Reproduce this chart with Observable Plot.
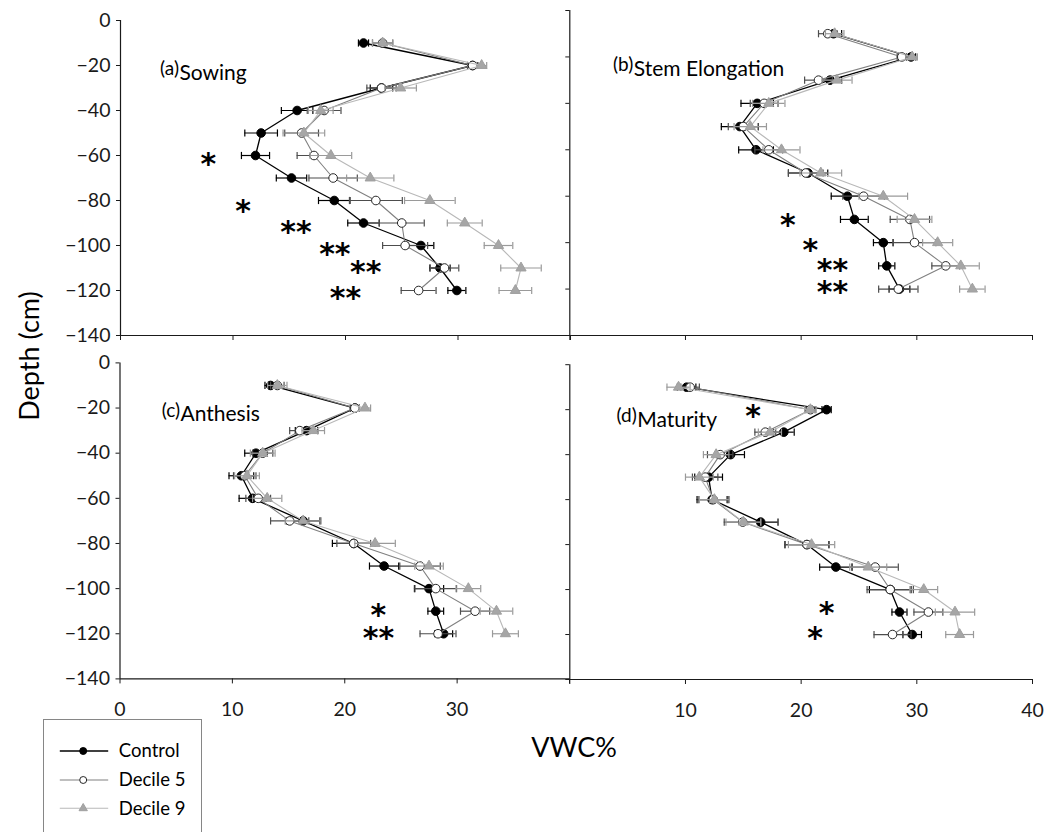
<!DOCTYPE html>
<html><head><meta charset="utf-8">
<script src="https://cdn.jsdelivr.net/npm/d3@7"></script>
<script src="https://cdn.jsdelivr.net/npm/@observablehq/plot@0.6"></script>
<style>
html,body{margin:0;padding:0;background:#fff;}
#root{position:relative;width:1046px;height:832px;overflow:hidden;font-family:Lato,sans-serif;color:#000;}
.panel{position:absolute;}
.title{position:absolute;white-space:nowrap;font-family:Lato,sans-serif;font-size:27px;line-height:1;}
#legend{position:absolute;left:42.5px;top:719px;width:157px;height:140px;border:1px solid #868686;background:#fff;}
</style></head>
<body><div id="root"></div>
<script>
// ---------- data ----------
const depths = [-10,-20,-30,-40,-50,-60,-70,-80,-90,-100,-110,-120];
const yTicks = [0,-20,-40,-60,-80,-100,-120,-140];
const xTicks = [0,10,20,30,40];
const xLabelsLeft = [0,10,20,30];
const xLabelsRight = [10,20,30,40];
const seriesNames = ["Control","Decile 5","Decile 9"];
const panelTags = ["(a)","(b)","(c)","(d)"];
const panelNames = ["Sowing","Stem Elongation","Anthesis","Maturity"];

// (a) Sowing
const sowingControl    = [21.6,31.3,23.2,15.7,12.5,12.0,15.2,19.0,21.6,26.7,28.4,29.9];
const sowingControlErr = [0.45,0.45,1.0,1.4,1.45,1.25,1.35,1.4,1.4,1.15,0.9,0.8];
const sowingD5         = [23.3,31.3,23.2,18.1,16.1,17.2,18.9,22.7,25.0,25.3,28.8,26.5];
const sowingD5Err      = [0.9,0.45,1.3,1.5,1.5,1.5,2.15,2.35,2.0,2.0,1.27,1.55];
const sowingD9         = [23.3,32.1,24.9,17.8,16.3,18.7,22.2,27.5,30.6,33.6,35.6,35.1];
const sowingD9Err      = [0.9,0.45,1.4,1.1,1.85,1.85,2.1,2.25,1.55,1.27,1.8,1.45];
const sowingStarText   = ["*","*","**","**","**","**"];
const sowingStarX      = [7.8,10.9,15.6,19.05,21.8,20.0];
const sowingStarDepth  = [-62,-83,-92,-102,-110,-121.5];

// (b) Stem Elongation
const stemControl    = [22.8,29.5,22.5,16.2,14.7,16.1,20.6,24.0,24.6,27.1,27.4,28.5];
const stemControlErr = [0.7,0.4,1.0,1.4,1.6,1.5,1.7,1.4,1.2,0.85,0.7,0.9];
const stemD5         = [22.3,28.7,21.5,16.8,15.0,17.2,20.4,25.4,29.4,29.8,32.5,28.4];
const stemD5Err      = [0.8,0.4,1.2,1.2,1.3,1.2,1.5,1.8,1.7,1.85,1.2,1.7];
const stemD9         = [22.9,29.6,23.1,17.2,15.6,18.3,21.7,27.1,29.8,31.8,33.8,34.8];
const stemD9Err      = [0.8,0.45,1.3,1.4,1.4,1.6,1.8,2.1,1.5,1.3,1.6,1.1];
const stemStarText   = ["*","*","**","**"];
const stemStarX      = [18.84,20.8,22.7,22.7];
const stemStarDepth  = [-90.5,-101.3,-110,-119.3];

// (c) Anthesis
const anthesisControl    = [13.4,20.9,16.6,12.1,10.8,11.8,16.3,20.8,23.5,27.5,28.1,28.8];
const anthesisControlErr = [0.5,0.4,1.0,1.0,1.1,1.2,1.5,1.9,1.3,1.3,0.7,0.8];
const anthesisD5         = [14.0,20.9,16.0,12.7,11.1,12.3,15.1,20.8,26.7,28.1,31.6,28.3];
const anthesisD5Err      = [0.6,0.4,0.9,0.9,1.0,1.1,1.7,1.5,1.8,1.85,1.3,1.6];
const anthesisD9         = [14.0,21.8,17.2,12.7,11.3,13.1,16.3,22.7,27.5,31.0,33.5,34.3];
const anthesisD9Err      = [0.86,0.5,1.0,1.1,1.1,1.3,1.6,1.8,1.27,1.1,1.45,1.15];
const anthesisStarText   = ["*","**"];
const anthesisStarX      = [23.0,23.0];
const anthesisStarDepth  = [-109.7,-120];

// (d) Maturity
const maturityControl    = [10.1,22.2,18.5,13.9,12.0,12.3,16.5,20.5,23.0,27.7,28.5,29.6];
const maturityControlErr = [0.8,0.4,0.9,1.2,1.2,1.3,1.5,1.9,1.4,1.8,0.65,0.8];
const maturityD5         = [10.4,20.8,16.9,13.0,11.7,12.4,14.95,20.5,26.4,27.7,31.0,27.9];
const maturityD5Err      = [0.8,0.4,0.9,1.1,1.1,1.3,1.6,1.9,2.0,2.0,1.25,1.6];
const maturityD9         = [9.4,20.8,17.3,12.65,11.2,12.5,15.0,20.9,25.8,30.6,33.3,33.7];
const maturityD9Err      = [1.0,0.5,1.0,1.1,1.2,1.3,1.5,2.0,1.6,1.2,1.7,1.2];
const maturityStarText   = ["*","*","*"];
const maturityStarX      = [15.85,22.2,21.2];
const maturityStarDepth  = [-21,-108.5,-119.6];

// ---------- styles / layout ----------
const seriesStyle = {
  "Control":  {line:"#000000", lw:1.3, err:"#000000", symbol:"circle",   fill:"#000000", stroke:"#000000", r:4.3},
  "Decile 5": {line:"#808080", lw:1.1, err:"#4d4d4d", symbol:"circle",   fill:"#ffffff", stroke:"#262626", r:4.3},
  "Decile 9": {line:"#b8b8b8", lw:1.1, err:"#9a9a9a", symbol:"triangle", fill:"#a6a6a6", stroke:"#a0a0a0", r:3.8}
};
const axisColor = "#1a1a1a";
const capSymbol = {draw(ctx){ ctx.moveTo(0,-3.6); ctx.lineTo(0,3.6); }};

const panels = [
  {series:[sowingControl,sowingD5,sowingD9], errs:[sowingControlErr,sowingD5Err,sowingD9Err],
   stars:[sowingStarText,sowingStarX,sowingStarDepth],
   left:0, top:0, width:600, height:345, mL:120, mR:30, mT:20, mB:10, yLab:true, xLab:null,
   tagDx:58.5, tagDy:40.9, nameDx:59, nameDy:45},
  {series:[stemControl,stemD5,stemD9], errs:[stemControlErr,stemD5Err,stemD9Err],
   stars:[stemStarText,stemStarX,stemStarDepth],
   left:540, top:0, width:506, height:345, mL:29.3, mR:14, mT:10, mB:10, yLab:false, xLab:null,
   tagDx:63.5, tagDy:46.9, nameDx:64, nameDy:51},
  {series:[anthesisControl,anthesisD5,anthesisD9], errs:[anthesisControlErr,anthesisD5Err,anthesisD9Err],
   stars:[anthesisStarText,anthesisStarX,anthesisStarDepth],
   left:0, top:340, width:600, height:400, mL:119.5, mR:31, mT:22.4, mB:61.6, yLab:true, xLab:xLabelsLeft,
   tagDx:60, tagDy:40.5, nameDx:60.5, nameDy:43.2},
  {series:[maturityControl,maturityD5,maturityD9], errs:[maturityControlErr,maturityD5Err,maturityD9Err],
   stars:[maturityStarText,maturityStarX,maturityStarDepth],
   left:540, top:340, width:506, height:400, mL:29.3, mR:14, mT:24.2, mB:61, yLab:false, xLab:xLabelsRight,
   tagDx:67, tagDy:44.2, nameDx:67.4, nameDy:47.8}
];

function seriesMarks(rows, st) {
  return [
    Plot.ruleY(rows, {y:"depth", x1:d=>d.v-d.e, x2:d=>d.v+d.e, stroke:st.err, strokeWidth:1.2}),
    Plot.dot(rows, {x:d=>d.v-d.e, y:"depth", symbol:capSymbol, fill:"none", stroke:st.err, strokeWidth:1.2}),
    Plot.dot(rows, {x:d=>d.v+d.e, y:"depth", symbol:capSymbol, fill:"none", stroke:st.err, strokeWidth:1.2}),
    Plot.line(rows, {x:"v", y:"depth", stroke:st.line, strokeWidth:st.lw}),
    Plot.dot(rows, {x:"v", y:"depth", symbol:st.symbol, r:st.r, fill:st.fill, stroke:st.stroke, strokeWidth:1})
  ];
}

const root = document.getElementById("root");

panels.forEach((p, k) => {
  const marks = [];
  marks.push(Plot.axisY({ticks:yTicks, anchor:"left", tickSize:4, tickPadding:6, label:null,
    tickFormat: p.yLab ? (d => d === 0 ? "0" : "\u2212" + Math.abs(d)) : (() => ""), fontSize:19.5}));
  marks.push(Plot.axisX({ticks:xTicks, anchor:"bottom", tickSize:5, tickPadding:18.3, label:null,
    tickFormat: p.xLab ? (d => p.xLab.includes(d) ? String(d) : "") : (() => ""), fontSize:19.5}));
  marks.push(Plot.ruleX([0], {stroke:axisColor, strokeWidth:1.2}));
  marks.push(Plot.ruleY([-140], {stroke:axisColor, strokeWidth:1.2}));
  seriesNames.forEach((name, s) => {
    const rows = depths.map((d, i) => ({depth:d, v:p.series[s][i], e:p.errs[s][i], series:name}));
    marks.push(...seriesMarks(rows, seriesStyle[name]));
  });
  const [stT, stX, stD] = p.stars;
  const starRows = stT.map((t, i) => ({t, x:stX[i], y:stD[i]}));
  marks.push(Plot.text(starRows, {x:"x", y:"y", text:"t", fontSize:30, fontWeight:"bold", fill:"#000",
    dy:7.5, fontFamily:"DejaVu Sans", lineHeight:0.7}));
  marks.push(Plot.text([panelTags[k]], {frameAnchor:"top-left", dx:p.tagDx, dy:p.tagDy, textAnchor:"end", fontSize:19, fill:"#000"}));
  marks.push(Plot.text([panelNames[k]], {frameAnchor:"top-left", dx:p.nameDx, dy:p.nameDy, textAnchor:"start", fontSize:21, fill:"#000"}));

  const chart = Plot.plot({
    width:p.width, height:p.height,
    marginLeft:p.mL, marginRight:p.mR, marginTop:p.mT, marginBottom:p.mB,
    style:{background:"transparent", overflow:"visible", fontFamily:"Lato, sans-serif", fontSize:"19.5px", color:axisColor},
    x:{domain:[0,40]},
    y:{domain:[-140,0]},
    marks
  });
  chart.classList.add("panel");
  chart.style.position = "absolute";
  chart.style.left = p.left + "px";
  chart.style.top = p.top + "px";
  chart.style.maxWidth = "none";
  root.appendChild(chart);
});

// axis titles
const yt = document.createElement("div");
yt.className = "title";
yt.textContent = "Depth (cm)";
yt.style.left = "28px"; yt.style.top = "356px";
yt.style.transform = "translate(-50%,-50%) rotate(-90deg)";
root.appendChild(yt);

const xt = document.createElement("div");
xt.className = "title";
xt.textContent = "VWC%";
xt.style.left = "574px"; xt.style.top = "746px";
xt.style.transform = "translate(-50%,-50%)";
root.appendChild(xt);

// legend
const lg = document.createElement("div");
lg.id = "legend";
const ns = "http://www.w3.org/2000/svg";
const lsvg = document.createElementNS(ns, "svg");
lsvg.setAttribute("width", 157); lsvg.setAttribute("height", 120);
lsvg.style.position = "absolute"; lsvg.style.left = "0px"; lsvg.style.top = "0px";
const rowY = [31, 60, 88.3];
seriesNames.forEach((name, i) => {
  const st = seriesStyle[name];
  const y = rowY[i];
  const ln = document.createElementNS(ns, "line");
  ln.setAttribute("x1", 15.8); ln.setAttribute("x2", 64.2); ln.setAttribute("y1", y); ln.setAttribute("y2", y);
  ln.setAttribute("stroke", st.line); ln.setAttribute("stroke-width", st.lw);
  lsvg.appendChild(ln);
  const path = document.createElementNS(ns, "path");
  const sym = d3.symbol(st.symbol === "triangle" ? d3.symbolTriangle : d3.symbolCircle, st.symbol === "triangle" ? 30 : 38)();
  path.setAttribute("d", sym);
  path.setAttribute("transform", `translate(39.2,${y})`);
  path.setAttribute("fill", st.fill); path.setAttribute("stroke", st.stroke);
  lsvg.appendChild(path);
  const tx = document.createElementNS(ns, "text");
  tx.setAttribute("x", 74.8); tx.setAttribute("y", y);
  tx.setAttribute("dy", "0.35em");
  tx.setAttribute("font-family", "Lato, sans-serif");
  tx.setAttribute("font-size", "18.5");
  tx.textContent = name;
  lsvg.appendChild(tx);
});
lg.appendChild(lsvg);
root.appendChild(lg);
</script>
</body></html>
